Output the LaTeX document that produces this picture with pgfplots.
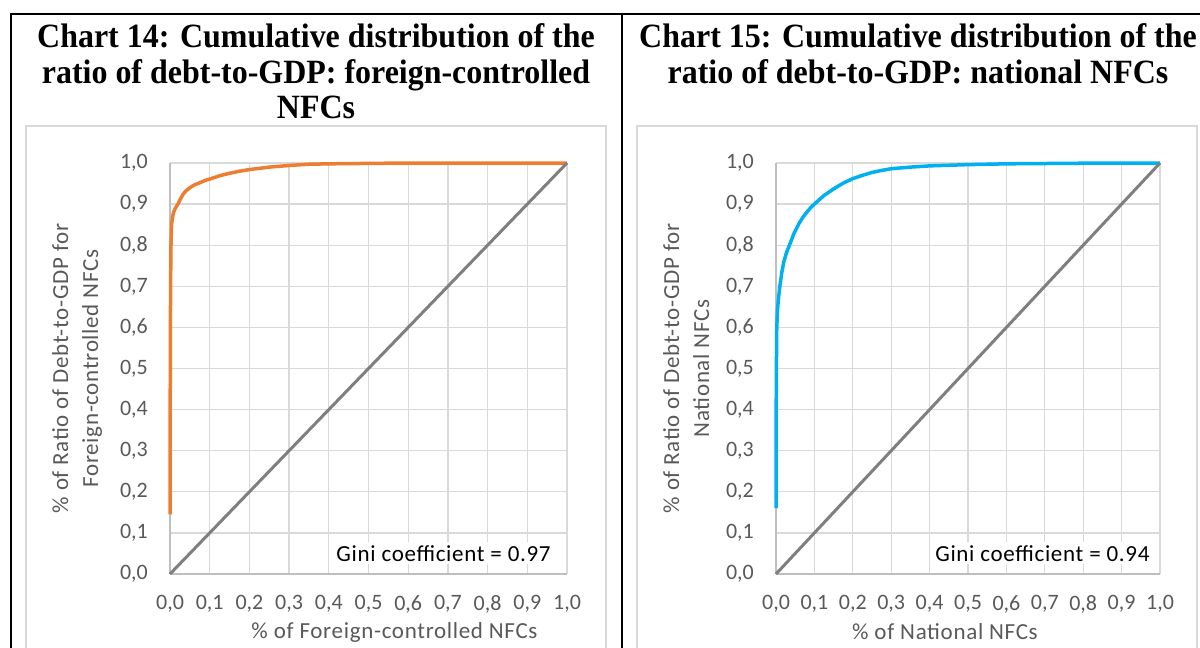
\documentclass[border=0pt]{standalone}
\usepackage{fontspec}
\setmainfont{Liberation Serif}
\newfontfamily\titlefont{Liberation Serif}[FakeStretch=0.94]
\newfontfamily\calibri{Carlito}
\newfontfamily\calibriS{Carlito}[LetterSpace=3]
\usepackage{pgfplots}
\pgfplotsset{compat=1.18}
\definecolor{orangeL}{HTML}{ED7D31}
\definecolor{blueL}{HTML}{00B0F0}
\definecolor{diagc}{HTML}{7F7F7F}
\definecolor{gridc}{HTML}{D9D9D9}
\definecolor{axisc}{HTML}{BFBFBF}
\definecolor{tickc}{HTML}{595959}

\pgfplotstableread{
x y
0 0.145
0.0005 0.40
0.001 0.60
0.0015 0.70
0.0025 0.80
0.004 0.85
0.006 0.866
0.008 0.876
0.010 0.882
0.013 0.889
0.016 0.894
0.020 0.900
0.026 0.912
0.033 0.924
0.041 0.933
0.050 0.940
0.062 0.947
0.075 0.952
0.087 0.957
0.100 0.961
0.125 0.969
0.150 0.975
0.175 0.980
0.200 0.984
0.250 0.990
0.300 0.994
0.350 0.997
0.400 0.998
0.500 0.999
0.600 1.000
1.000 1.000
}\foreign

\pgfplotstableread{
x y
0 0.16
0.0005 0.40
0.001 0.50
0.002 0.60
0.004 0.645
0.007 0.675
0.010 0.700
0.015 0.733
0.020 0.758
0.027 0.781
0.035 0.800
0.047 0.829
0.060 0.853
0.070 0.868
0.080 0.880
0.090 0.891
0.100 0.900
0.125 0.921
0.150 0.937
0.175 0.951
0.200 0.962
0.225 0.970
0.250 0.977
0.275 0.982
0.300 0.986
0.350 0.990
0.400 0.993
0.500 0.996
0.600 0.998
0.800 0.9995
1.000 1.000
}\national

\pgfplotstableread{
x y
0 0
1 1
}\equality

\pgfplotsset{lorenz/.style={
  scale only axis, height=411pt,
  xmin=0, xmax=1, ymin=0, ymax=1,
  xtick={0,0.1,0.2,0.3,0.4,0.5,0.6,0.7,0.8,0.9,1},
  ytick={0,0.1,0.2,0.3,0.4,0.5,0.6,0.7,0.8,0.9,1},
  grid=major, major grid style={gridc, line width=1.3pt},
  major tick length=0pt,
  axis x line*=bottom, axis y line*=left,
  axis line style={axisc, line width=1.3pt, -},
  ticklabel style={font=\calibri\fontsize{22}{24}\selectfont, text=tickc},
  /pgf/number format/.cd, use comma, fixed, fixed zerofill, precision=1, assume math mode=true,
  /pgfplots/.cd,
  xticklabel style={inner sep=0pt, yshift=-21pt},
  yticklabel style={inner sep=0pt, xshift=-22pt},
  label style={font=\calibriS\fontsize{23}{30}\selectfont, text=tickc},
  ylabel style={align=center, anchor=center},
  xlabel style={anchor=center},
  clip=false,
}}

\begin{document}
\begin{tikzpicture}
\path[use as bounding box] (0pt,0pt) rectangle (1200pt,-648pt);
% frame
\draw[black, line width=2pt] (10pt,-14pt) -- (1200pt,-14pt);
\draw[black, line width=2pt] (11pt,-14pt) -- (11pt,-648pt);
\draw[black, line width=2pt] (622pt,-14pt) -- (622pt,-648pt);
% chart boxes
\draw[gridc, line width=1.3pt] (26pt,-648pt) -- (26pt,-126pt) -- (606pt,-126pt) -- (606pt,-648pt);
\draw[gridc, line width=1.3pt] (637pt,-648pt) -- (637pt,-126pt) -- (1197pt,-126pt) -- (1197pt,-648pt);
% titles
\begin{scope}[every node/.style={font=\titlefont\fontsize{34}{36}\selectfont\bfseries, anchor=base, inner sep=0pt}]
\node at (316pt,-47.5pt) {Chart 14: Cumulative distribution of the};
\node at (316pt,-83pt) {ratio of debt-to-GDP: foreign-controlled};
\node at (316pt,-118.5pt) {NFCs};
\node at (918pt,-47.5pt) {Chart 15: Cumulative distribution of the};
\node at (918pt,-83pt) {ratio of debt-to-GDP: national NFCs};
\end{scope}

\begin{axis}[lorenz, width=397pt, at={(170pt,-574pt)}, anchor=south west,
  ylabel={\% of Ratio of Debt-to-GDP for\\Foreign-controlled NFCs},
  ylabel style={at={(axis description cs:-0.234,0.5)}},
  xlabel={\% of Foreign-controlled NFCs},
  xlabel style={at={(axis description cs:0.5655,-0.1411)}}]
\addplot[orangeL, line width=3.5pt, line join=round] table[x=x,y=y] {\foreign};
\addplot[diagc, line width=3pt] table[x=x,y=y] {\equality};
\node[anchor=east, fill=white, inner sep=3pt, text=black, font=\calibriS\fontsize{23}{26}\selectfont] at (rel axis cs:0.967,0.05) {Gini coefficient = 0.97};
\end{axis}

\begin{axis}[lorenz, width=384pt, at={(776pt,-574pt)}, anchor=south west,
  ylabel={\% of Ratio of Debt-to-GDP for\\National NFCs},
  ylabel style={at={(axis description cs:-0.234,0.5)}},
  xlabel={\% of National NFCs},
  xlabel style={at={(axis description cs:0.440,-0.1411)}}]
\addplot[blueL, line width=3.5pt, line join=round] table[x=x,y=y] {\national};
\addplot[diagc, line width=3pt] table[x=x,y=y] {\equality};
\node[anchor=east, fill=white, inner sep=3pt, text=black, font=\calibriS\fontsize{23}{26}\selectfont] at (rel axis cs:0.981,0.05) {Gini coefficient = 0.94};
\end{axis}
\end{tikzpicture}
\end{document}
